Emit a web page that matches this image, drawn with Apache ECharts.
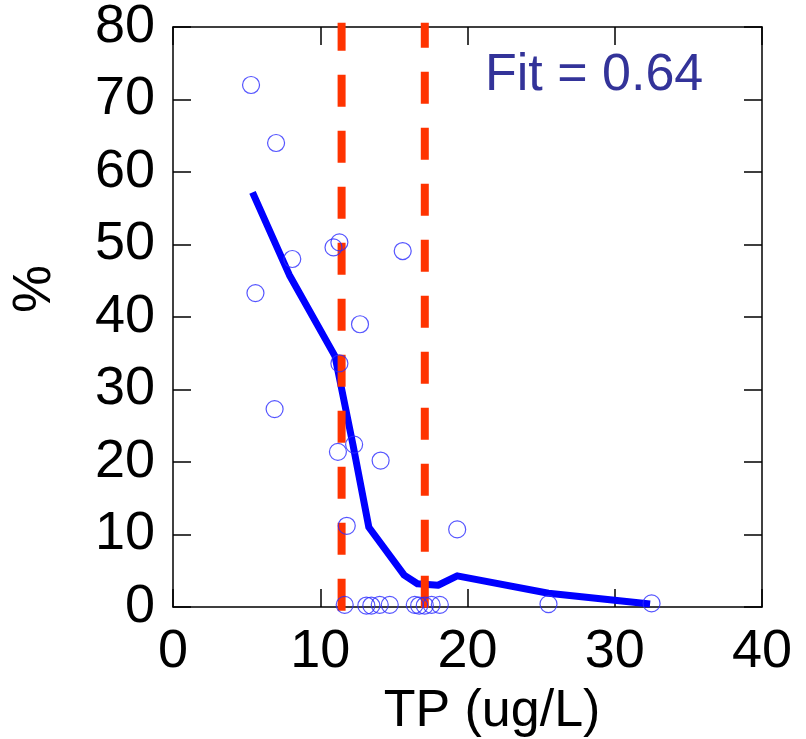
<!DOCTYPE html>
<html>
<head>
<meta charset="utf-8">
<script src="https://cdn.jsdelivr.net/npm/echarts@6/dist/echarts.min.js"></script>
<style>
html,body{margin:0;padding:0;background:#fff;}
#chart{width:806px;height:739px;}
</style>
</head>
<body>
<div id="chart"></div>
<script>
// Observed data points (TP ug/L, %)
const obsX = [5.3, 7.0, 10.9, 11.3, 15.6, 8.1, 5.6, 12.7, 11.3, 6.9, 12.3, 11.2, 14.1, 11.8, 19.3,
              11.66, 13.13, 13.47, 14.04, 14.72, 16.42, 16.72, 17.1, 17.56, 18.12, 25.5, 32.5];
const obsY = [72, 64, 49.6, 50.3, 49.1, 48, 43.3, 39, 33.6, 27.3, 22.4, 21.4, 20.2, 11.2, 10.7,
              0.3, 0.2, 0.2, 0.3, 0.3, 0.3, 0.2, 0.2, 0.3, 0.3, 0.4, 0.5];
// Fitted curve
const fitX = [5.4, 7.9, 11.0, 11.4, 12.22, 13.3, 15.7, 16.6, 18.0, 19.3, 25.5, 32.4];
const fitY = [57.2, 45.8, 34.6, 30.6, 22.4, 11.0, 4.4, 3.2, 3.0, 4.3, 1.9, 0.4];
// Change points (vertical dashed lines)
const thresholds = [11.45, 17.1];
const xTicks = [0, 10, 20, 30, 40];
const yTicks = [0, 10, 20, 30, 40, 50, 60, 70, 80];
const fitLabel = 'Fit = 0.64';
const xTitle = 'TP (ug/L)';
const yTitle = '%';

const FONT = '"Liberation Sans", Arial, sans-serif';
const chart = echarts.init(document.getElementById('chart'));

const axisCommon = {
  type: 'value',
  axisLine: {show: true, onZero: false, lineStyle: {color: '#000', width: 1.5}},
  axisTick: {show: true, inside: true, length: 18, lineStyle: {color: '#000', width: 1.5}},
  splitLine: {show: false}
};

const series = [
  {
    type: 'line',
    data: fitX.map((x, i) => [x, fitY[i]]),
    symbol: 'none',
    lineStyle: {color: '#0000ff', width: 7, cap: 'butt', join: 'round'},
    z: 2,
    silent: true
  }
];
thresholds.forEach((t, i) => {
  series.push({
    type: 'line',
    data: [[t, 80.6], [t, -0.6]],
    symbol: 'none',
    clip: false,
    lineStyle: {color: '#ff3300', width: 8, type: [32, 24], dashOffset: i === 0 ? 4 : 7, cap: 'butt'},
    z: 3,
    silent: true
  });
});
series.push({
  type: 'scatter',
  data: obsX.map((x, i) => [x, obsY[i]]),
  symbol: 'circle',
  symbolSize: 17,
  itemStyle: {color: 'rgba(0,0,0,0)', borderColor: '#2b2bff', borderWidth: 1.2},
  z: 4,
  silent: true
});

chart.setOption({
  animation: false,
  backgroundColor: '#fff',
  grid: {left: 173, top: 24, right: 44, bottom: 132, containLabel: false},
  xAxis: [
    Object.assign({}, axisCommon, {
      position: 'bottom', min: 0, max: 40, interval: 10,
      axisLabel: {show: true, fontFamily: FONT, fontSize: 54, color: '#000', margin: 18,
        formatter: v => xTicks.includes(v) ? String(v) : ''}
    }),
    Object.assign({}, axisCommon, {
      position: 'top', min: 0, max: 40, interval: 10,
      axisLabel: {show: false}
    })
  ],
  yAxis: [
    Object.assign({}, axisCommon, {
      position: 'left', min: 0, max: 80, interval: 10,
      axisLabel: {show: true, fontFamily: FONT, fontSize: 54, color: '#000', margin: 18,
        formatter: v => yTicks.includes(v) ? String(v) : ''}
    }),
    Object.assign({}, axisCommon, {
      position: 'right', min: 0, max: 80, interval: 10,
      axisLabel: {show: false}
    })
  ],
  graphic: [
    {type: 'text', left: 485, top: 50,
     style: {text: fitLabel, font: '52px ' + FONT, fill: '#333399'}, z: 10},
    {type: 'text', x: 492, y: 712,
     style: {text: xTitle, font: '52px ' + FONT, fill: '#000', align: 'center', verticalAlign: 'middle'}, z: 10},
    {type: 'text', x: 35, y: 289, rotation: Math.PI / 2,
     style: {text: yTitle, font: '54px ' + FONT, fill: '#000', align: 'center', verticalAlign: 'middle'}, z: 10}
  ],
  series: series
});
</script>
</body>
</html>
